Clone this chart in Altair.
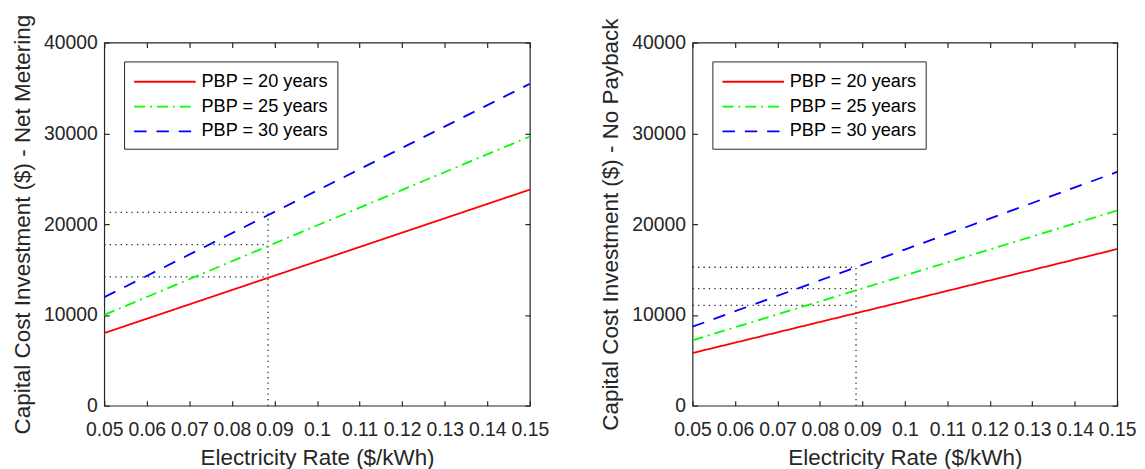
import altair as alt
import pandas as pd

FONT = "Liberation Sans"
INK = "#262626"

# ---- data ----
rates = [0.05, 0.10, 0.15]
series_names = ["PBP = 20 years", "PBP = 25 years", "PBP = 30 years"]

# Net metering panel (left)
nm_pbp20 = [8000, 15900, 23800]
nm_pbp25 = [10000, 19850, 29650]
nm_pbp30 = [11950, 23700, 35450]
nm_mark_rate = 0.0885
nm_mark_costs = [21300, 17750, 14200]

# No payback panel (right)
np_pbp20 = [5800, 11500, 17250]
np_pbp25 = [7200, 14350, 21500]
np_pbp30 = [8700, 17200, 25750]
np_mark_rate = 0.0885
np_mark_costs = [15250, 12900, 11050]

x_ticks = [0.05, 0.06, 0.07, 0.08, 0.09, 0.10, 0.11, 0.12, 0.13, 0.14, 0.15]
y_ticks = [0, 10000, 20000, 30000, 40000]

colors = ["#ff0000", "#00ff00", "#0000ff"]
dashes = [[1, 0], [11, 5, 2, 5], [12.5, 10]]


def panel(v20, v25, v30, mark_rate, mark_costs, ytitle, width):
    rows = []
    for name, vals in zip(series_names, [v20, v25, v30]):
        for r, c in zip(rates, vals):
            rows.append({"rate": r, "cost": c, "series": name})
    df = pd.DataFrame(rows)

    xs = alt.Scale(domain=[0.05, 0.15], nice=False, zero=False)
    ys = alt.Scale(domain=[0, 40000], nice=False)

    legend = alt.Legend(
        title=None, orient="none", legendX=20, legendY=19,
        symbolType="M-1,0L5,0", symbolSize=427, symbolStrokeWidth=1.8,
        symbolFillColor="transparent",
        labelFont=FONT, labelFontSize=18.3, labelColor="#000000",
        strokeColor=INK, fillColor="white", padding=9, rowPadding=5,
        labelOffset=46, labelLimit=400,
    )

    hdf = pd.DataFrame({"x0": [0.05] * len(mark_costs),
                        "x1": [mark_rate] * len(mark_costs),
                        "y": mark_costs})
    vdf = pd.DataFrame({"x": [mark_rate], "y0": [0], "y1": [mark_costs[0]]})

    hdots = alt.Chart(hdf).mark_rule(strokeDash=[1.3, 4.2], strokeWidth=1.3, color=INK).encode(
        x=alt.X("x0:Q", scale=xs, axis=None),
        x2="x1:Q",
        y=alt.Y("y:Q", scale=ys, axis=None),
    )
    vdots = alt.Chart(vdf).mark_rule(strokeDash=[1.3, 4.2], strokeWidth=1.3, color=INK).encode(
        x=alt.X("x:Q", scale=xs, axis=None),
        y=alt.Y("y0:Q", scale=ys, axis=None),
        y2="y1:Q",
    )

    lines = alt.Chart(df).mark_line(strokeWidth=1.8, clip=True).encode(
        x=alt.X("rate:Q", scale=xs, axis=alt.Axis(
            orient="bottom", values=x_ticks, labelExpr="format(datum.value, '.2~f')",
            labelOverlap=False, labelBound=False, labelFlush=False,
            offset=-5, tickSize=5, labelPadding=15, domain=False, grid=False,
            title="Electricity Rate ($/kWh)", titlePadding=8)),
        y=alt.Y("cost:Q", scale=ys, axis=alt.Axis(
            orient="left", values=y_ticks, format="d", labelOverlap=False,
            labelFlush=False,
            offset=-5, tickSize=5, labelPadding=7, domain=False, grid=False,
            title=ytitle, titlePadding=9)),
        color=alt.Color("series:N", scale=alt.Scale(domain=series_names, range=colors), legend=legend),
        strokeDash=alt.StrokeDash("series:N", scale=alt.Scale(domain=series_names, range=dashes), legend=legend),
    )

    frame = alt.Chart(df).mark_point(opacity=0).encode(
        x=alt.X("rate:Q", scale=xs, axis=alt.Axis(
            orient="top", values=x_ticks, labels=False, title=None,
            offset=-5, tickSize=5, domain=False, grid=False)),
        y=alt.Y("cost:Q", scale=ys, axis=alt.Axis(
            orient="right", values=y_ticks, labels=False, title=None,
            offset=-5, tickSize=5, domain=False, grid=False)),
    )

    return alt.layer(hdots, vdots, lines, frame).resolve_axis(
        x="independent", y="independent"
    ).properties(width=width, height=366)


left = panel(nm_pbp20, nm_pbp25, nm_pbp30, nm_mark_rate, nm_mark_costs,
             "Capital Cost Investment ($) - Net Metering", 429)
right = panel(np_pbp20, np_pbp25, np_pbp30, np_mark_rate, np_mark_costs,
              "Capital Cost Investment ($) - No Payback", 428)

chart = alt.hconcat(left, right, spacing=164, bounds="flush").resolve_scale(
    color="independent", strokeDash="independent"
).resolve_legend(
    color="independent", strokeDash="independent"
).properties(
    padding={"left": 3, "top": 3, "right": 0, "bottom": 0},
).configure_view(
    stroke=INK, strokeWidth=1.2
).configure_axis(
    labelFont=FONT, labelFontSize=19.5, labelColor=INK,
    tickColor=INK, tickWidth=1.2,
    titleFont=FONT, titleFontSize=22.6, titleColor=INK, titleFontWeight="normal",
)

chart.save("out.html", embed_options={"renderer": "svg", "actions": False})
